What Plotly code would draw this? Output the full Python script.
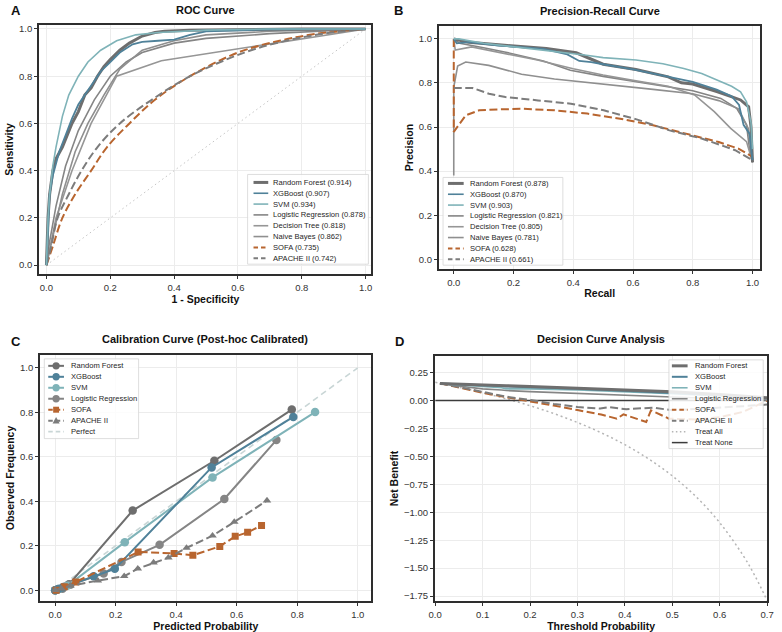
import plotly.graph_objects as go

# ---------------- DATA ----------------
# Panel A: ROC
roc_rf_x = [0, 0.005, 0.01, 0.02, 0.03, 0.05, 0.08, 0.1, 0.12, 0.14, 0.16, 0.18, 0.2, 0.23, 0.26, 0.3, 0.34, 0.37, 0.45, 0.6, 0.8, 1.0]
roc_rf_y = [0, 0.2, 0.3, 0.4, 0.45, 0.5, 0.6, 0.65, 0.72, 0.75, 0.8, 0.84, 0.87, 0.91, 0.94, 0.97, 0.985, 0.99, 0.995, 0.998, 1.0, 1.0]
roc_xgb_x = [0, 0.005, 0.01, 0.02, 0.04, 0.06, 0.08, 0.1, 0.13, 0.15, 0.17, 0.2, 0.23, 0.27, 0.3, 0.35, 0.4, 0.45, 0.5, 0.7, 1.0]
roc_xgb_y = [0, 0.18, 0.3, 0.38, 0.48, 0.55, 0.62, 0.68, 0.74, 0.78, 0.82, 0.86, 0.9, 0.935, 0.945, 0.95, 0.955, 0.975, 0.99, 0.998, 1.0]
roc_svm_x = [0, 0.005, 0.01, 0.02, 0.03, 0.05, 0.07, 0.1, 0.13, 0.17, 0.22, 0.28, 0.35, 0.5, 0.7, 1.0]
roc_svm_y = [0, 0.2, 0.3, 0.42, 0.5, 0.63, 0.72, 0.8, 0.86, 0.91, 0.95, 0.975, 0.985, 0.995, 1.0, 1.0]
roc_lr_x = [0, 0.01, 0.03, 0.06, 0.1, 0.15, 0.2, 0.25, 0.3, 0.4, 0.5, 0.7, 1.0]
roc_lr_y = [0, 0.1, 0.25, 0.42, 0.57, 0.7, 0.8, 0.86, 0.9, 0.94, 0.96, 0.98, 1.0]
roc_dt_x = [0, 0.03, 0.08, 0.14, 0.22, 0.36, 1.0]
roc_dt_y = [0, 0.2, 0.4, 0.6, 0.8, 0.865, 1.0]
roc_nb_x = [0, 0.02, 0.05, 0.09, 0.13, 0.18, 0.23, 0.3, 0.4, 0.5, 0.7, 1.0]
roc_nb_y = [0, 0.12, 0.3, 0.48, 0.6, 0.72, 0.83, 0.91, 0.95, 0.975, 0.99, 1.0]
roc_sofa_x = [0, 0.02, 0.05, 0.09, 0.14, 0.19, 0.26, 0.34, 0.45, 0.6, 0.73, 0.85, 1.0]
roc_sofa_y = [0, 0.08, 0.2, 0.3, 0.4, 0.5, 0.6, 0.7, 0.8, 0.9, 0.95, 0.98, 1.0]
roc_ap_x = [0, 0.015, 0.035, 0.07, 0.11, 0.16, 0.23, 0.33, 0.45, 0.62, 0.75, 0.87, 1.0]
roc_ap_y = [0, 0.08, 0.2, 0.3, 0.4, 0.5, 0.6, 0.7, 0.8, 0.9, 0.95, 0.98, 1.0]
roc_diag = [0, 1]

roc_labels = ["Random Forest (0.914)", "XGBoost (0.907)", "SVM (0.934)", "Logistic Regression (0.878)",
              "Decision Tree (0.818)", "Naive Bayes (0.862)", "SOFA (0.735)", "APACHE II (0.742)"]

# Panel B: Precision-Recall
pr_rf_x = [0, 0.05, 0.17, 0.31, 0.41, 0.466, 0.5, 0.61, 0.718, 0.762, 0.8, 0.883, 0.96, 0.987, 0.995, 1.0]
pr_rf_y = [1.0, 0.985, 0.971, 0.956, 0.937, 0.904, 0.885, 0.861, 0.828, 0.801, 0.795, 0.76, 0.723, 0.692, 0.6, 0.44]
pr_xgb_x = [0, 0.01, 0.05, 0.15, 0.3, 0.38, 0.42, 0.46, 0.5, 0.6, 0.7, 0.8, 0.88, 0.93, 0.955, 0.97, 0.99, 1.0]
pr_xgb_y = [1.0, 0.98, 0.985, 0.97, 0.955, 0.93, 0.9, 0.895, 0.885, 0.862, 0.833, 0.805, 0.77, 0.74, 0.70, 0.61, 0.57, 0.45]
pr_svm_x = [0, 0.016, 0.1, 0.2, 0.3, 0.444, 0.5, 0.61, 0.7, 0.77, 0.83, 0.883, 0.93, 0.96, 0.98, 0.995, 1.0]
pr_svm_y = [1.0, 1.0, 0.98, 0.965, 0.95, 0.926, 0.915, 0.904, 0.887, 0.866, 0.843, 0.813, 0.785, 0.76, 0.715, 0.62, 0.5]
pr_lr_x = [0, 0.02, 0.1, 0.17, 0.3, 0.39, 0.5, 0.61, 0.7, 0.8, 0.894, 0.947, 0.98, 0.99, 1.0]
pr_lr_y = [1.0, 0.98, 0.96, 0.941, 0.9, 0.858, 0.83, 0.805, 0.787, 0.765, 0.73, 0.685, 0.61, 0.5, 0.44]
pr_dt_x = [0, 0.005, 0.06, 0.15, 0.28, 0.4, 0.5, 0.6, 0.718, 0.806, 0.872, 0.927, 0.98, 1.0]
pr_dt_y = [1.0, 0.949, 0.964, 0.94, 0.904, 0.865, 0.836, 0.812, 0.785, 0.746, 0.67, 0.594, 0.534, 0.44]
pr_nb_x = [0, 0.0, 0.013, 0.04, 0.117, 0.227, 0.337, 0.502, 0.667, 0.8, 0.887, 0.953, 0.986, 1.0]
pr_nb_y = [0.38, 0.78, 0.877, 0.895, 0.88, 0.84, 0.818, 0.796, 0.771, 0.751, 0.72, 0.683, 0.593, 0.44]
pr_sofa_x = [0, 0, 0.04, 0.085, 0.15, 0.227, 0.337, 0.447, 0.557, 0.667, 0.777, 0.887, 0.953, 1.0]
pr_sofa_y = [1.0, 0.578, 0.653, 0.676, 0.68, 0.683, 0.676, 0.661, 0.638, 0.608, 0.57, 0.532, 0.502, 0.465]
pr_ap_x = [0, 0.063, 0.118, 0.173, 0.282, 0.392, 0.502, 0.612, 0.722, 0.832, 0.942, 0.99, 1.0]
pr_ap_y = [0.777, 0.777, 0.751, 0.736, 0.721, 0.706, 0.676, 0.635, 0.585, 0.547, 0.495, 0.46, 0.45]

pr_labels = ["Random Forest (0.878)", "XGBoost (0.870)", "SVM (0.903)", "Logistic Regression (0.821)",
             "Decision Tree (0.805)", "Naive Bayes (0.781)", "SOFA (0.628)", "APACHE II (0.661)"]

# Panel C: Calibration
cal_rf_x = [0.0, 0.01, 0.03, 0.046, 0.256, 0.526, 0.782]
cal_rf_y = [0.0, 0.005, 0.015, 0.027, 0.358, 0.582, 0.812]
cal_xgb_x = [0.0, 0.01, 0.024, 0.127, 0.197, 0.517, 0.787]
cal_xgb_y = [0.0, 0.005, 0.012, 0.063, 0.096, 0.552, 0.779]
cal_svm_x = [0.0, 0.01, 0.04, 0.23, 0.52, 0.859]
cal_svm_y = [0.0, 0.004, 0.02, 0.216, 0.507, 0.801]
cal_lr_x = [0.0, 0.008, 0.024, 0.05, 0.16, 0.219, 0.345, 0.559, 0.731]
cal_lr_y = [0.0, 0.004, 0.007, 0.025, 0.075, 0.127, 0.204, 0.41, 0.675]
cal_sofa_x = [0.003, 0.03, 0.068, 0.274, 0.393, 0.455, 0.544, 0.595, 0.636, 0.682]
cal_sofa_y = [0.0, 0.015, 0.037, 0.172, 0.165, 0.157, 0.197, 0.242, 0.26, 0.291]
cal_ap_x = [0.0, 0.02, 0.05, 0.141, 0.228, 0.273, 0.325, 0.374, 0.434, 0.52, 0.592, 0.70]
cal_ap_y = [0.0, 0.008, 0.02, 0.043, 0.063, 0.097, 0.124, 0.146, 0.19, 0.245, 0.307, 0.403]
cal_perfect = [0, 1]
cal_labels = ["Random Forest", "XGBoost", "SVM", "Logistic Regression", "SOFA", "APACHE II", "Perfect"]

# Panel D: Decision curve
dca_thr = [0.01, 0.05, 0.1, 0.14, 0.15, 0.2, 0.3, 0.4, 0.5, 0.6, 0.7]
dca_rf = [0.152, 0.148, 0.14, 0.135, 0.133, 0.125, 0.11, 0.095, 0.078, 0.055, 0.025]
dca_xgb = [0.152, 0.147, 0.137, 0.13, 0.126, 0.12, 0.105, 0.088, 0.068, 0.047, 0.02]
dca_svm = [0.152, 0.14, 0.125, 0.115, 0.105, 0.105, 0.095, 0.08, 0.062, 0.042, 0.02]
dca_lr = [0.15, 0.13, 0.105, 0.095, 0.09, 0.08, 0.066, 0.05, 0.032, 0.016, 0.005]
dca_sofa_thr = [0.01, 0.05, 0.1, 0.15, 0.2, 0.25, 0.3, 0.35, 0.383, 0.397, 0.445, 0.455, 0.493, 0.55, 0.6, 0.65, 0.7]
dca_sofa = [0.155, 0.115, 0.07, 0.03, -0.005, -0.045, -0.085, -0.125, -0.162, -0.123, -0.192, -0.087, -0.162, -0.17, -0.15, -0.1, 0.0]
dca_ap_thr = [0.01, 0.1, 0.15, 0.2, 0.25, 0.3, 0.348, 0.366, 0.403, 0.459, 0.5, 0.55, 0.6, 0.65, 0.7]
dca_ap = [0.155, 0.075, 0.035, 0.005, -0.03, -0.057, -0.072, -0.058, -0.078, -0.063, -0.087, -0.075, -0.065, -0.05, -0.036]
dca_all_thr = [0.0, 0.05, 0.1, 0.15, 0.2, 0.25, 0.3, 0.35, 0.4, 0.45, 0.5, 0.55, 0.6, 0.65, 0.675, 0.7]
dca_all = [0.163, 0.119, 0.070, 0.015, -0.046, -0.116, -0.196, -0.288, -0.395, -0.522, -0.674, -0.860, -1.093, -1.391, -1.575, -1.790]
dca_none_thr = [0.0, 0.7]
dca_none = [0.0, 0.0]
dca_labels = ["Random Forest", "XGBoost", "SVM", "Logistic Regression", "SOFA", "APACHE II", "Treat All", "Treat None"]

# ---------------- STYLE ----------------
W, H = 782, 632
FONT = "Liberation Sans, Arial, sans-serif"
C_RF = "#6e6e6e"
C_XGB = "#4f8199"
C_SVM = "#7fb3b8"
C_LR = "#858585"
C_DT = "#969696"
C_NB = "#8f8f8f"
C_SOFA = "#b8652f"
C_AP = "#7c7c7c"
DASH = "8px,3.5px"
LEG_DASH = "4.5px,3px"

def px(x):
    return x / W

def py(y):
    return 1 - y / H

fig = go.Figure()

def line(x, y, ax, color, width, dash="solid", mode="lines", marker=None, shape="linear"):
    d = dict(x=x, y=y, mode=mode, showlegend=False, hoverinfo="skip",
             line=dict(color=color, width=width, dash=dash, shape=shape),
             xaxis="x" + ("" if ax == 1 else str(ax)), yaxis="y" + ("" if ax == 1 else str(ax)))
    if marker:
        d["marker"] = marker
    fig.add_trace(go.Scatter(**d))

# Panel A
line(roc_diag, roc_diag, 1, "#c4c4c4", 1, dash="1.5px,3px")
line(roc_lr_x, roc_lr_y, 1, C_LR, 1.6)
line(roc_dt_x, roc_dt_y, 1, C_DT, 1.6)
line(roc_nb_x, roc_nb_y, 1, C_NB, 1.6)
line(roc_sofa_x, roc_sofa_y, 1, C_SOFA, 2, DASH, shape="spline")
line(roc_ap_x, roc_ap_y, 1, C_AP, 2, DASH, shape="spline")
line(roc_rf_x, roc_rf_y, 1, C_RF, 3)
line(roc_xgb_x, roc_xgb_y, 1, C_XGB, 1.8)
line(roc_svm_x, roc_svm_y, 1, C_SVM, 1.6)

# Panel B
line(pr_lr_x, pr_lr_y, 2, C_LR, 1.6)
line(pr_dt_x, pr_dt_y, 2, C_DT, 1.6)
line(pr_nb_x, pr_nb_y, 2, C_NB, 1.6)
line(pr_sofa_x, pr_sofa_y, 2, C_SOFA, 2, DASH)
line(pr_ap_x, pr_ap_y, 2, C_AP, 2, DASH)
line(pr_rf_x, pr_rf_y, 2, C_RF, 3)
line(pr_xgb_x, pr_xgb_y, 2, C_XGB, 1.8)
line(pr_svm_x, pr_svm_y, 2, C_SVM, 1.6)

# Panel C
line(cal_perfect, cal_perfect, 3, "#c9d6d6", 1.6, dash="6px,4px")
mk = lambda c, s, sym: dict(color=c, size=s, symbol=sym)
line(cal_rf_x, cal_rf_y, 3, C_RF, 2, mode="lines+markers", marker=mk(C_RF, 8.5, "circle"))
line(cal_lr_x, cal_lr_y, 3, C_LR, 2, mode="lines+markers", marker=mk(C_LR, 8.5, "circle"))
line(cal_svm_x, cal_svm_y, 3, C_SVM, 2, mode="lines+markers", marker=mk(C_SVM, 8.5, "circle"))
line(cal_xgb_x, cal_xgb_y, 3, C_XGB, 2, mode="lines+markers", marker=mk(C_XGB, 8.5, "circle"))
line(cal_sofa_x, cal_sofa_y, 3, C_SOFA, 2, dash=DASH, mode="lines+markers", marker=mk(C_SOFA, 7, "square"))
line(cal_ap_x, cal_ap_y, 3, C_AP, 2, dash=DASH, mode="lines+markers", marker=mk(C_AP, 7.5, "triangle-up"))

# Panel D
line(dca_all_thr, dca_all, 4, "#b5b5b5", 1.5, dash="2px,3px", shape="spline")
line(dca_none_thr, dca_none, 4, "#3c3c3c", 1.5)
line(dca_sofa_thr, dca_sofa, 4, C_SOFA, 2, DASH)
line(dca_ap_thr, dca_ap, 4, C_AP, 2, DASH)
line(dca_thr, dca_lr, 4, C_LR, 1.6)
line(dca_thr, dca_svm, 4, C_SVM, 1.6)
line(dca_thr, dca_xgb, 4, C_XGB, 2)
line(dca_thr, dca_rf, 4, C_RF, 3)

# ---------------- AXES ----------------
def axis(domain, rng, dtick, fmt, title, anchor):
    return dict(domain=domain, range=rng, dtick=dtick, tick0=0, tickformat=fmt,
                showgrid=True, gridcolor="#ececec", gridwidth=0.8, zeroline=False,
                showline=True, mirror=True, linecolor="#2e2e2e", linewidth=1.6,
                ticks="outside", ticklen=3.5, tickwidth=1, tickcolor="#333",
                tickfont=dict(size=9.5, color="#333", family=FONT),
                title=dict(text="<b>" + title + "</b>", font=dict(size=10.5, color="#111", family=FONT), standoff=3),
                anchor=anchor)

boxes = {
    1: (33, 371, 23, 273),
    2: (440, 767, 24, 268),
    3: (34, 371, 354, 601),
    4: (436, 774, 355, 601),
}
def dom(b):
    x0, x1, y0, y1 = b
    return [px(x0), px(x1)], [py(y1), py(y0)]

d1x, d1y = dom(boxes[1]); d2x, d2y = dom(boxes[2]); d3x, d3y = dom(boxes[3]); d4x, d4y = dom(boxes[4])

layout = dict(
    width=W, height=H, margin=dict(l=0, r=0, t=0, b=0),
    paper_bgcolor="white", plot_bgcolor="white", showlegend=False,
    font=dict(family=FONT, color="#333"),
    xaxis=axis(d1x, [-0.022, 1.018], 0.2, ".1f", "1 - Specificity", "y"),
    yaxis=axis(d1y, [-0.038, 1.017], 0.2, ".1f", "Sensitivity", "x"),
    xaxis2=axis(d2x, [-0.049, 1.026], 0.2, ".1f", "Recall", "y2"),
    yaxis2=axis(d2y, [-0.045, 1.059], 0.2, ".1f", "Precision", "x2"),
    xaxis3=axis(d3x, [-0.049, 1.045], 0.2, ".1f", "Predicted Probability", "y3"),
    yaxis3=axis(d3y, [-0.049, 1.058], 0.2, ".1f", "Observed Frequency", "x3"),
    xaxis4=axis(d4x, [0, 0.7], 0.1, ".1f", "Threshold Probability", "y4"),
    yaxis4=axis(d4y, [-1.795, 0.40], 0.25, ".2f", "Net Benefit", "x4"),
)
fig.update_layout(**layout)

shapes = []
annotations = []

# Titles and panel letters
def title(text, xc, yc):
    annotations.append(dict(text="<b>" + text + "</b>", x=px(xc), y=py(yc), xref="paper", yref="paper",
                            showarrow=False, xanchor="center", yanchor="middle",
                            font=dict(size=11, color="#111", family=FONT)))

def letter(text, xl, yc):
    annotations.append(dict(text="<b>" + text + "</b>", x=px(xl), y=py(yc), xref="paper", yref="paper",
                            showarrow=False, xanchor="left", yanchor="middle",
                            font=dict(size=13, color="#111", family=FONT)))

title("ROC Curve", 202, 8)
title("Precision-Recall Curve", 604, 9)
title("Calibration Curve (Post-hoc Calibrated)", 202, 338)
title("Decision Curve Analysis", 605, 338)
letter("A", 2, 9)
letter("B", 392, 9)
letter("C", 2, 341)
letter("D", 393, 341)

# Legends (drawn as boxes, sample strokes and text)
def legend(box, entries, first_y, step, lx0, lx1, tx):
    x0, x1, y0, y1 = box
    shapes.append(dict(type="rect", xref="paper", yref="paper", x0=px(x0), x1=px(x1), y0=py(y1), y1=py(y0),
                       fillcolor="rgba(255,255,255,0.85)", line=dict(color="#d4d4d4", width=0.8), layer="above"))
    for i, e in enumerate(entries):
        label, color, width, dash, marker = e
        yc = first_y + i * step
        shapes.append(dict(type="line", xref="paper", yref="paper", x0=px(lx0), x1=px(lx1), y0=py(yc), y1=py(yc),
                           line=dict(color=color, width=width, dash=dash), layer="above"))
        if marker:
            xm = (lx0 + lx1) / 2
            r = 3.7
            if marker == "circle":
                shapes.append(dict(type="circle", xref="paper", yref="paper", x0=px(xm - r), x1=px(xm + r),
                                   y0=py(yc + r), y1=py(yc - r), fillcolor=color, line=dict(width=0), layer="above"))
            elif marker == "square":
                r = 3
                shapes.append(dict(type="rect", xref="paper", yref="paper", x0=px(xm - r), x1=px(xm + r),
                                   y0=py(yc + r), y1=py(yc - r), fillcolor=color, line=dict(width=0), layer="above"))
            elif marker == "triangle":
                r = 3.6
                path = "M {} {} L {} {} L {} {} Z".format(px(xm - r), py(yc + r * 0.8), px(xm + r), py(yc + r * 0.8),
                                                        px(xm), py(yc - r))
                shapes.append(dict(type="path", xref="paper", yref="paper", path=path, fillcolor=color,
                                   line=dict(width=0), layer="above"))
        annotations.append(dict(text=label, x=px(tx), y=py(yc), xref="paper", yref="paper", showarrow=False,
                                xanchor="left", yanchor="middle", font=dict(size=7.6, color="#262626", family=FONT)))

styles8 = [(C_RF, 3, "solid", None), (C_XGB, 1.6, "solid", None), (C_SVM, 1.6, "solid", None),
           (C_LR, 1.6, "solid", None), (C_DT, 1.6, "solid", None), (C_NB, 1.6, "solid", None),
           (C_SOFA, 2, LEG_DASH, None), (C_AP, 2, LEG_DASH, None)]
legend((245, 368, 173, 263), [(l,) + s for l, s in zip(roc_labels, styles8)], 181, 10.86, 251, 266, 269)
legend((444, 566, 176, 264), [(l,) + s for l, s in zip(pr_labels, styles8)], 182, 10.86, 449, 465, 469)

cal_styles = [(C_RF, 2, "solid", "circle"), (C_XGB, 2, "solid", "circle"), (C_SVM, 2, "solid", "circle"),
              (C_LR, 2, "solid", "circle"), (C_SOFA, 2, LEG_DASH, "square"), (C_AP, 2, LEG_DASH, "triangle"),
              ("#c9d6d6", 1.6, LEG_DASH, None)]
legend((38, 134, 358, 438), [(l,) + s for l, s in zip(cal_labels, cal_styles)], 365, 11, 42, 58, 63)

dca_styles = [(C_RF, 3, "solid", None), (C_XGB, 2, "solid", None), (C_SVM, 1.6, "solid", None),
              (C_LR, 1.6, "solid", None), (C_SOFA, 2, LEG_DASH, None), (C_AP, 2, LEG_DASH, None),
              ("#b5b5b5", 1.5, "1.5px,2.5px", None), ("#3c3c3c", 1.5, "solid", None)]
legend((674, 770, 359, 448), [(l,) + s for l, s in zip(dca_labels, dca_styles)], 365, 11, 677, 693, 698)

fig.update_layout(shapes=shapes, annotations=annotations)
fig.write_html("out.html")
